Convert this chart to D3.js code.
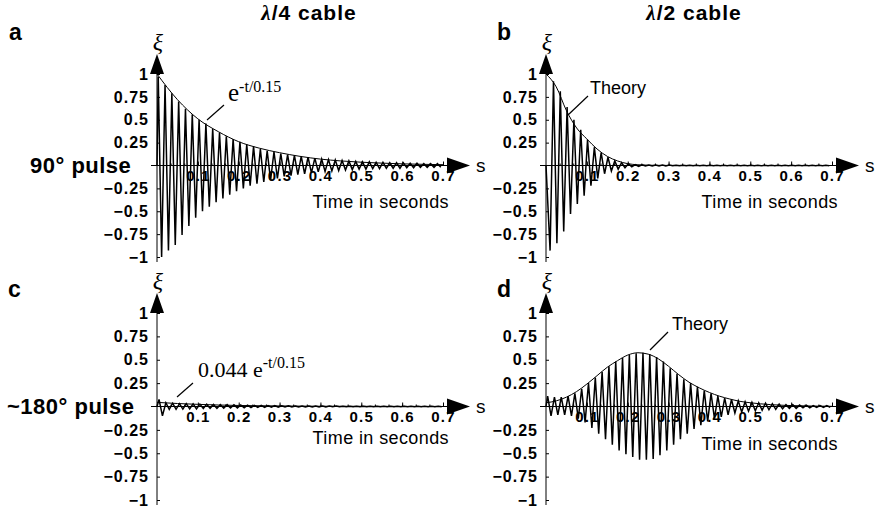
<!DOCTYPE html>
<html>
<head>
<meta charset="utf-8">
<script src="https://cdn.jsdelivr.net/npm/d3@7"></script>
<style>
  body { margin: 0; background: #fff; }
  svg { display: block; }
  .tick text { font-family: "Liberation Sans", Arial, sans-serif; font-weight: bold; fill: #000; }
</style>
</head>
<body>
<svg id="chart" width="875" height="512"></svg>
<script>
// tick values / labels
const xTicks = [0.1, 0.2, 0.3, 0.4, 0.5, 0.6, 0.7];
const xTickLabels = ['0.1', '0.2', '0.3', '0.4', '0.5', '0.6', '0.7'];
const yTicks = [-1, -0.75, -0.5, -0.25, 0.25, 0.5, 0.75, 1];
const yTickLabels = ['\u22121', '\u22120.75', '\u22120.5', '\u22120.25', '0.25', '0.5', '0.75', '1'];

// the signal is a 60 Hz ringing; one positive and one negative peak per cycle
const cycle = 1 / 60;

// a: lambda/4 cable, 90 deg pulse
const aPos = [0.97, 0.88, 0.79, 0.70, 0.62, 0.56, 0.50, 0.46, 0.40, 0.36, 0.32, 0.29, 0.26, 0.23, 0.21, 0.18,
  0.16, 0.15, 0.13, 0.12, 0.11, 0.10, 0.09, 0.08, 0.07, 0.065, 0.06, 0.055, 0.05, 0.045, 0.04, 0.04,
  0.035, 0.035, 0.03, 0.03, 0.03, 0.025, 0.025, 0.02, 0.02, 0.02];
const aNeg = [-1.0, -0.93, -0.87, -0.76, -0.66, -0.57, -0.50, -0.45, -0.40, -0.36, -0.32, -0.28, -0.25, -0.22, -0.20, -0.18,
  -0.16, -0.14, -0.12, -0.11, -0.10, -0.09, -0.08, -0.07, -0.065, -0.06, -0.055, -0.05, -0.045, -0.04, -0.04,
  -0.035, -0.035, -0.03, -0.03, -0.03, -0.025, -0.025, -0.02, -0.02, -0.02, -0.02];
const theoryA = [[0, 1.0], [0.05, 0.72], [0.1, 0.51], [0.15, 0.37], [0.2, 0.26], [0.25, 0.19], [0.3, 0.14], [0.35, 0.10],
  [0.4, 0.07], [0.45, 0.05], [0.5, 0.036], [0.55, 0.026], [0.6, 0.018], [0.65, 0.013], [0.7, 0.009]];

// b: lambda/2 cable, 90 deg pulse (starts on a negative swing)
const bNeg = [-0.93, -0.85, -0.72, -0.53, -0.42, -0.33, -0.22, -0.14, -0.09, -0.06, -0.04, -0.025, -0.015, -0.01,
  -0.006, -0.005, -0.004, -0.004, -0.003, -0.003, -0.003, -0.003, -0.002, -0.002, -0.002, -0.002, -0.002, -0.002,
  -0.002, -0.002, -0.002, -0.002, -0.002, -0.002, -0.002, -0.002, -0.002, -0.002, -0.002, -0.002, -0.002, -0.002];
const bPos = [0.92, 0.81, 0.64, 0.50, 0.39, 0.28, 0.20, 0.14, 0.09, 0.05, 0.03, 0.02, 0.01, 0.008,
  0.006, 0.005, 0.004, 0.004, 0.003, 0.003, 0.003, 0.003, 0.002, 0.002, 0.002, 0.002, 0.002, 0.002,
  0.002, 0.002, 0.002, 0.002, 0.002, 0.002, 0.002, 0.002, 0.002, 0.002, 0.002, 0.002, 0.002, 0.002];
const theoryB = [[0, 1.0], [0.025, 0.86], [0.05, 0.6], [0.075, 0.41], [0.1, 0.29], [0.125, 0.18], [0.15, 0.10],
  [0.175, 0.05], [0.2, 0.02], [0.225, 0.008], [0.25, 0.003], [0.3, 0.001], [0.4, 0], [0.5, 0], [0.6, 0], [0.7, 0]];

// c: lambda/4 cable, ~180 deg pulse
const cPos = [0.075, 0.04, 0.035, 0.03, 0.03, 0.028, 0.025, 0.025, 0.022, 0.02, 0.02, 0.018, 0.016, 0.015,
  0.013, 0.012, 0.01, 0.01, 0.008, 0.007, 0.006, 0.006, 0.005, 0.005, 0.004, 0.004, 0.004, 0.003, 0.003, 0.003,
  0.003, 0.003, 0.002, 0.002, 0.002, 0.002, 0.002, 0.002, 0.002, 0.002, 0.002, 0.002];
const cNeg = [-0.10, -0.03, -0.03, -0.028, -0.025, -0.025, -0.022, -0.02, -0.02, -0.018, -0.016, -0.015, -0.013, -0.012,
  -0.01, -0.01, -0.008, -0.007, -0.006, -0.006, -0.005, -0.005, -0.004, -0.004, -0.004, -0.003, -0.003, -0.003,
  -0.003, -0.003, -0.002, -0.002, -0.002, -0.002, -0.002, -0.002, -0.002, -0.002, -0.002, -0.002, -0.002, -0.002];
const theoryC = [[0, 0.044], [0.05, 0.032], [0.1, 0.023], [0.15, 0.016], [0.2, 0.011], [0.25, 0.008], [0.3, 0.006],
  [0.35, 0.004], [0.4, 0.003], [0.45, 0.002], [0.5, 0.0016], [0.55, 0.0011], [0.6, 0.0008], [0.65, 0.0006], [0.7, 0.0004]];

// d: lambda/2 cable, ~180 deg pulse
const dPos = [0.11, 0.10, 0.10, 0.11, 0.14, 0.19, 0.25, 0.31, 0.37, 0.43, 0.48, 0.52, 0.55, 0.57, 0.575, 0.56,
  0.53, 0.48, 0.41, 0.35, 0.29, 0.25, 0.21, 0.17, 0.14, 0.11, 0.09, 0.075, 0.06, 0.05, 0.045, 0.04,
  0.035, 0.03, 0.025, 0.02, 0.02, 0.015, 0.015, 0.01, 0.01, 0.01];
const dNeg = [-0.10, -0.09, -0.09, -0.10, -0.13, -0.17, -0.23, -0.29, -0.35, -0.41, -0.47, -0.51, -0.54, -0.57, -0.57, -0.56,
  -0.52, -0.47, -0.41, -0.35, -0.29, -0.24, -0.20, -0.16, -0.13, -0.11, -0.09, -0.07, -0.06, -0.05, -0.045, -0.04,
  -0.035, -0.03, -0.025, -0.02, -0.02, -0.015, -0.015, -0.01, -0.01, -0.01];
const theoryD = [[0, 0.04], [0.025, 0.06], [0.05, 0.10], [0.075, 0.16], [0.1, 0.24], [0.125, 0.33], [0.15, 0.42],
  [0.175, 0.49], [0.2, 0.55], [0.225, 0.575], [0.25, 0.56], [0.275, 0.51], [0.3, 0.43], [0.325, 0.34], [0.35, 0.26],
  [0.375, 0.2], [0.4, 0.15], [0.425, 0.11], [0.45, 0.08], [0.475, 0.055], [0.5, 0.04], [0.55, 0.02], [0.6, 0.01],
  [0.65, 0.005], [0.7, 0.002]];

const svg = d3.select('#chart');
const sans = '"Liberation Sans", Arial, sans-serif';
const serif = '"Liberation Serif", "Times New Roman", serif';

const panels = [
  { letter: 'a', pos: aPos, neg: aNeg, t0: 0.003, posFirst: true, theory: theoryA,
    x: d3.scaleLinear([0, 0.7], [157, 443]), y: d3.scaleLinear([-1, 1], [257, 74]), lx: 9, ly: 40, timeY: 208 },
  { letter: 'b', pos: bPos, neg: bNeg, t0: 0.010, posFirst: false, theory: theoryB,
    x: d3.scaleLinear([0, 0.7], [546, 832]), y: d3.scaleLinear([-1, 1], [257, 74]), lx: 497, ly: 40, timeY: 208 },
  { letter: 'c', pos: cPos, neg: cNeg, t0: 0.005, posFirst: true, theory: theoryC,
    x: d3.scaleLinear([0, 0.7], [157, 443]), y: d3.scaleLinear([-1, 1], [500, 313]), lx: 8, ly: 297, timeY: 444 },
  { letter: 'd', pos: dPos, neg: dNeg, t0: 0.004, posFirst: true, theory: theoryD,
    x: d3.scaleLinear([0, 0.7], [546, 832]), y: d3.scaleLinear([-1, 1], [500, 313]), lx: 497, ly: 297, timeY: 450 }
];

// build the zigzag through the peaks, in time order
function wavePoints(p) {
  const pts = [[0, 0]];
  for (let i = 0; i < p.pos.length; i++) {
    const tA = p.t0 + i * cycle, tB = tA + cycle / 2;
    if (p.posFirst) { pts.push([tA, p.pos[i]]); pts.push([tB, p.neg[i]]); }
    else { pts.push([tA, p.neg[i]]); pts.push([tB, p.pos[i]]); }
  }
  return pts.filter(d => d[0] <= 0.7);
}

panels.forEach(p => {
  const g = svg.append('g');
  const x = p.x, y = p.y;

  // x axis
  const xa = g.append('g')
    .attr('transform', `translate(0,${y(0)})`)
    .call(d3.axisBottom(x).tickValues(xTicks).tickFormat((d, i) => xTickLabels[i])
      .tickSizeInner(-4).tickSizeOuter(0).tickPadding(5));
  xa.select('.domain').remove();
  xa.selectAll('text').attr('font-size', 15).attr('letter-spacing', 1.2);
  // minor x ticks
  g.append('g')
    .attr('transform', `translate(0,${y(0)})`)
    .call(d3.axisBottom(x).tickValues(d3.range(1, 21).map(k => k * 0.7 / 21)).tickFormat('')
      .tickSizeInner(-2).tickSizeOuter(0))
    .select('.domain').remove();

  // y axis
  const ya = g.append('g')
    .attr('transform', `translate(${x(0)},0)`)
    .call(d3.axisLeft(y).tickValues(yTicks).tickFormat((d, i) => yTickLabels[i])
      .tickSizeInner(-3).tickSizeOuter(0).tickPadding(8));
  ya.select('.domain').remove();
  ya.selectAll('text').attr('font-size', 16).attr('letter-spacing', 1);

  // axis lines with arrows
  const x0 = x(0), y0 = y(0);
  const xEnd = x(0.7) + 4, yTop = y(1);
  g.append('line').attr('x1', x0 - 6).attr('x2', xEnd).attr('y1', y0).attr('y2', y0)
    .attr('stroke', '#000').attr('stroke-width', 1);
  g.append('path').attr('d', `M${xEnd},${y0 - 8}L${xEnd + 23},${y0}L${xEnd},${y0 + 8}Z`).attr('fill', '#000');
  g.append('line').attr('x1', x0).attr('x2', x0).attr('y1', y(-1) + 5).attr('y2', yTop)
    .attr('stroke', '#000').attr('stroke-width', 1);
  g.append('path').attr('d', `M${x0 - 7},${yTop}L${x0},${yTop - 20}L${x0 + 7},${yTop}Z`).attr('fill', '#000');

  g.append('text').attr('x', xEnd + 29).attr('y', y0 + 6).attr('font-family', sans).attr('font-size', 19).text('s');
  g.append('text').attr('x', x0 + 1).attr('y', yTop - 24).attr('text-anchor', 'middle')
    .attr('font-family', serif).attr('font-style', 'italic').attr('font-size', 24).text('\u03be');
  g.append('text').attr('x', x(0.7) + 6).attr('y', p.timeY).attr('text-anchor', 'end')
    .attr('font-family', sans).attr('font-size', 18).attr('letter-spacing', 0.4).text('Time in seconds');

  // measured signal
  g.append('path').datum(wavePoints(p))
    .attr('fill', 'none').attr('stroke', '#000').attr('stroke-width', 1.5).attr('stroke-linejoin', 'miter')
    .attr('d', d3.line().x(d => x(d[0])).y(d => y(d[1])));
  // theory envelope
  g.append('path').datum(p.theory)
    .attr('fill', 'none').attr('stroke', '#000').attr('stroke-width', 1)
    .attr('d', d3.line().x(d => x(d[0])).y(d => y(d[1])).curve(d3.curveMonotoneX));

  // panel letter
  g.append('text').attr('x', p.lx).attr('y', p.ly).attr('font-family', sans).attr('font-weight', 'bold')
    .attr('font-size', 23).text(p.letter);
});

// column titles
function title(cx, n) {
  const t = svg.append('text').attr('x', cx).attr('y', 20).attr('text-anchor', 'middle')
    .attr('font-family', sans).attr('font-weight', 'bold').attr('font-size', 21).attr('letter-spacing', 1);
  t.append('tspan').attr('font-family', serif).attr('font-style', 'italic').text('\u03bb');
  t.append('tspan').text('/' + n + ' cable');
}
title(309, 4);
title(694, 2);

// row labels
svg.append('text').attr('x', 30).attr('y', 173).attr('font-family', sans).attr('font-weight', 'bold')
  .attr('font-size', 22).attr('letter-spacing', 0.5).text('90\u00b0 pulse');
svg.append('text').attr('x', 7).attr('y', 414).attr('font-family', sans).attr('font-weight', 'bold')
  .attr('font-size', 22).attr('letter-spacing', 0.5).text('~180\u00b0 pulse');

// annotations
function pointer(x1, y1, x2, y2) {
  svg.append('line').attr('x1', x1).attr('y1', y1).attr('x2', x2).attr('y2', y2)
    .attr('stroke', '#000').attr('stroke-width', 1.2);
}
pointer(207, 120, 224, 105);
const ea = svg.append('text').attr('x', 228).attr('y', 101).attr('font-family', serif).attr('font-size', 25);
ea.append('tspan').text('e');
ea.append('tspan').attr('font-size', 16).attr('dy', -9).text('-t/0.15');

pointer(177, 397, 193, 383);
const ec = svg.append('text').attr('x', 198).attr('y', 377).attr('font-family', serif).attr('font-size', 22);
ec.append('tspan').text('0.044 e');
ec.append('tspan').attr('font-size', 16).attr('dy', -9).text('-t/0.15');

pointer(568, 115, 588, 96);
svg.append('text').attr('x', 590).attr('y', 94).attr('font-family', sans).attr('font-size', 18).text('Theory');

pointer(650, 350, 668, 332);
svg.append('text').attr('x', 672).attr('y', 330).attr('font-family', sans).attr('font-size', 18).text('Theory');
</script>
</body>
</html>
